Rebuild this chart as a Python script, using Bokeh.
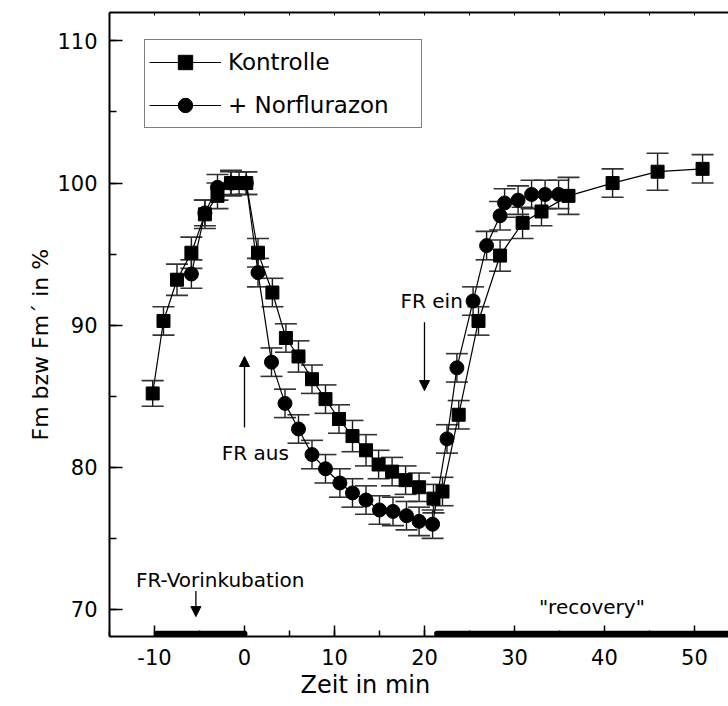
from bokeh.plotting import figure
from bokeh.models import (Range1d, LinearAxis, SingleIntervalTicker, Whisker, TeeHead,
                          ColumnDataSource, Legend, LegendItem, Arrow, NormalHead, Label,
                          CustomJSTickFormatter, Title)
from bokeh.embed import file_html
from bokeh.resources import INLINE

# --- Kontrolle (squares): time in min, Fm in %, error
t_kontrolle = [-10.2, -9.0, -7.5, -5.9, -4.4, -3.0, -1.5, -0.6, 0.2, 1.5, 3.1, 4.6, 6.0,
               7.5, 9.0, 10.5, 12.0, 13.5, 14.9, 16.4, 17.9, 19.4, 21.0, 22.0, 23.8, 26.0,
               28.4, 30.9, 33.0, 36.0, 40.9, 45.9, 50.9]
fm_kontrolle = [85.2, 90.3, 93.2, 95.1, 97.8, 99.1, 100.0, 100.0, 100.0, 95.1, 92.3, 89.1,
                87.8, 86.2, 84.8, 83.4, 82.2, 81.2, 80.2, 79.7, 79.1, 78.6, 77.8, 78.3,
                83.7, 90.3, 94.9, 97.2, 98.0, 99.1, 100.0, 100.8, 101.0]
err_kontrolle = [0.9, 1.0, 1.1, 1.1, 1.0, 0.9, 0.9, 0.8, 0.8, 1.0, 1.0, 1.0, 1.1, 1.0, 1.0,
                 1.0, 1.1, 1.1, 1.0, 1.0, 1.0, 1.0, 1.0, 1.0, 1.0, 1.0, 1.1, 1.1, 1.0, 1.3,
                 1.0, 1.3, 1.0]

# --- + Norflurazon (circles)
t_norflurazon = [-5.9, -4.4, -3.0, -1.5, 0.2, 1.5, 3.0, 4.5, 6.0, 7.5, 9.0, 10.6, 12.0,
                 13.5, 15.0, 16.5, 18.0, 19.4, 20.9, 22.5, 23.6, 25.4, 26.9, 28.4, 28.9,
                 30.4, 31.9, 33.4, 34.9]
fm_norflurazon = [93.6, 97.9, 99.7, 100.0, 100.0, 93.7, 87.4, 84.5, 82.7, 80.9, 79.9, 78.9,
                  78.2, 77.7, 77.0, 76.9, 76.6, 76.2, 76.0, 82.0, 87.0, 91.7, 95.6, 97.7,
                  98.6, 98.8, 99.2, 99.2, 99.2]
err_norflurazon = [1.0, 0.9, 0.9, 0.8, 0.8, 1.0, 1.0, 1.0, 1.0, 1.0, 1.0, 1.0, 1.0, 1.0,
                   1.0, 1.0, 1.0, 1.0, 1.0, 1.0, 1.0, 1.0, 1.0, 1.0, 1.0, 1.0, 1.0, 1.0, 1.0]

# light-treatment periods (min)
fr_pre_period = [-9.7, 0.0]
recovery_period = [21.4, 54.0]

FONT = "DejaVu Sans"
X_MIN, X_MAX = -15.0, 53.78
Y_MIN, Y_MAX = 68.1, 112.0

p = figure(width=728, height=706, output_backend="svg", toolbar_location=None,
           x_range=Range1d(X_MIN, X_MAX), y_range=Range1d(Y_MIN, Y_MAX),
           min_border_left=109, min_border_right=0, min_border_top=12, min_border_bottom=70)
p.outline_line_color = None
p.grid.visible = False
p.background_fill_color = "white"

plain_numbers = CustomJSTickFormatter(code="return String(tick)")

for ax in (p.xaxis[0], p.yaxis[0]):
    ax.ticker = SingleIntervalTicker(interval=10, num_minor_ticks=2)
    ax.formatter = plain_numbers
    ax.axis_line_width = 2
    ax.axis_line_color = "black"
    ax.major_tick_out = 0
    ax.minor_tick_out = 0
    ax.major_tick_line_width = 1.5
    ax.minor_tick_line_width = 1.5
    ax.major_label_text_font = FONT
    ax.major_label_text_font_size = "21px"
    ax.major_label_text_color = "black"
    ax.major_label_standoff = 12

p.xaxis.major_tick_in = 11
p.xaxis.minor_tick_in = 6
p.yaxis.major_tick_in = 13
p.yaxis.minor_tick_in = 7

# top border with small inward ticks every 5 min
top = LinearAxis(ticker=SingleIntervalTicker(interval=5, num_minor_ticks=0),
                 formatter=CustomJSTickFormatter(code="return ''"),
                 major_tick_in=3, major_tick_out=0, minor_tick_in=0, minor_tick_out=0,
                 major_label_standoff=0, axis_line_width=2, axis_line_color="black")
p.add_layout(top, "above")

# axis titles, placed along the drawn span of each axis
title_style = dict(text_font=FONT, text_font_style="normal", text_color="black")
p.add_layout(Title(text="Zeit in min", align="left", offset=191, standoff=2,
                   text_font_size="24px", **title_style), "below")
p.add_layout(Title(text="Fm bzw Fm´ in %", align="left", offset=196, standoff=4,
                   text_font_size="22px", **title_style), "left")

src_k = ColumnDataSource(dict(t=t_kontrolle, fm=fm_kontrolle,
                              lo=[v - e for v, e in zip(fm_kontrolle, err_kontrolle)],
                              hi=[v + e for v, e in zip(fm_kontrolle, err_kontrolle)]))
src_n = ColumnDataSource(dict(t=t_norflurazon, fm=fm_norflurazon,
                              lo=[v - e for v, e in zip(fm_norflurazon, err_norflurazon)],
                              hi=[v + e for v, e in zip(fm_norflurazon, err_norflurazon)]))

line_k = p.line("t", "fm", source=src_k, line_color="black", line_width=1.2)
line_n = p.line("t", "fm", source=src_n, line_color="black", line_width=1.2)

for src in (src_k, src_n):
    p.add_layout(Whisker(source=src, base="t", lower="lo", upper="hi",
                         line_color="#1a1a1a", line_width=1.4,
                         upper_head=TeeHead(size=22, line_color="#333333", line_width=1.6),
                         lower_head=TeeHead(size=22, line_color="#333333", line_width=1.6)))

pts_k = p.scatter("t", "fm", source=src_k, marker="square", size=13,
                  fill_color="black", line_color="black")
pts_n = p.scatter("t", "fm", source=src_n, marker="circle", size=14,
                  fill_color="black", line_color="black")

# treatment bars resting on the time axis
bar_y = Y_MIN + 0.2
p.line(fr_pre_period, [bar_y, bar_y], line_color="black", line_width=6, line_cap="round")
p.line(recovery_period, [bar_y, bar_y], line_color="black", line_width=6, line_cap="round")

# annotations
head = dict(size=10, fill_color="black", line_color="black")
p.add_layout(Arrow(end=NormalHead(**head), x_start=0, y_start=82.8, x_end=0, y_end=87.8,
                   line_color="black", line_width=1.3))
p.add_layout(Arrow(end=NormalHead(**head), x_start=20, y_start=90.2, x_end=20, y_end=85.4,
                   line_color="black", line_width=1.3))
p.add_layout(Arrow(end=NormalHead(**head), x_start=-5.4, y_start=71.3, x_end=-5.4, y_end=69.5,
                   line_color="black", line_width=1.3))

lab = dict(text_font=FONT, text_font_size="20px", text_color="black",
           text_align="center", text_baseline="middle")
p.add_layout(Label(x=1.2, y=81.0, text="FR aus", **lab))
p.add_layout(Label(x=20.8, y=91.7, text="FR ein", **lab))
p.add_layout(Label(x=-2.7, y=72.1, text="FR-Vorinkubation", **lab))
p.add_layout(Label(x=38.6, y=70.2, text='"recovery"', **lab))

legend = Legend(items=[LegendItem(label="Kontrolle", renderers=[line_k, pts_k]),
                       LegendItem(label="+ Norflurazon", renderers=[line_n, pts_n])],
                location=(35, 508), glyph_width=72, glyph_height=36, spacing=7, padding=4,
                label_standoff=7, label_width=189, label_text_font=FONT,
                label_text_font_size="23px", label_text_color="black",
                border_line_color="black", border_line_width=1.5,
                background_fill_color="white", background_fill_alpha=1.0)
p.add_layout(legend)

open("out.html", "w").write(file_html(p, INLINE))
